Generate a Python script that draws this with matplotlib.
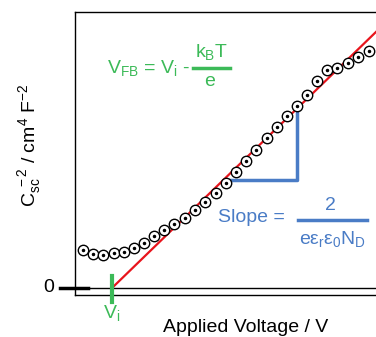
import matplotlib
matplotlib.use("Agg")
import matplotlib.pyplot as plt

plt.rcParams['font.family'] = ['Liberation Sans', 'DejaVu Sans']
plt.rcParams['mathtext.fontset'] = 'custom'
plt.rcParams['mathtext.rm'] = 'Liberation Sans'
plt.rcParams['mathtext.it'] = 'Liberation Sans'

# data (arbitrary units)
voltage = [-0.42, -0.32, -0.22, -0.11, -0.01, 0.09, 0.19, 0.29, 0.39, 0.49,
           0.60, 0.70, 0.80, 0.91, 1.01, 1.11, 1.21, 1.31, 1.42, 1.52,
           1.62, 1.72, 1.82, 1.92, 2.02, 2.12, 2.23, 2.33, 2.44]
csc_inv2 = [0.38, 0.34, 0.33, 0.35, 0.36, 0.40, 0.45, 0.52, 0.58, 0.64,
            0.70, 0.78, 0.86, 0.95, 1.05, 1.16, 1.27, 1.38, 1.50, 1.61,
            1.72, 1.82, 1.93, 2.07, 2.18, 2.20, 2.25, 2.31, 2.37]
v_i = -0.13
slope = 0.97
fit_x = [v_i, 2.51]
tri_x = 1.72
tri_y = 1.08

green = '#3cba58'
blue = '#4a7cc6'
red = '#e8141c'

fig = plt.figure(figsize=(3.76, 3.37), dpi=100)
ax = fig.add_axes([75/376, (337-295)/337, 301/376, 283/337])
ax.set_xlim(-0.5, 2.51)
ax.set_ylim(-0.07, 2.76)
ax.set_xticks([])
ax.set_yticks([])
ax.spines['right'].set_visible(False)
for s in ['left', 'top', 'bottom']:
    ax.spines[s].set_linewidth(1.0)

# zero line
ax.axhline(0, color='black', lw=1.0)
ax.plot([-0.65, -0.37], [0, 0], color='black', lw=2.5, clip_on=False)

# fit line
fit_y = [slope * (x - v_i) for x in fit_x]
ax.plot(fit_x, fit_y, color=red, lw=1.6, zorder=3)

# data points
ax.plot(voltage, csc_inv2, 'o', ms=7.5, mfc='white', mec='black', mew=1.0, zorder=4)
ax.plot(voltage, csc_inv2, '.', ms=3, color='black', zorder=5)

# slope triangle
x0 = v_i + tri_y / slope
ax.plot([x0, tri_x, tri_x], [tri_y, tri_y, slope * (tri_x - v_i)],
        color=blue, lw=2.5, zorder=2, solid_capstyle='butt')

# Vi tick
ax.plot([v_i, v_i], [0.12, -0.14], color=green, lw=3, clip_on=False, zorder=6)

def P(px, py):
    return (px - 75) / 100 - 0.5, (288 - py) / 100

# annotations
ax.text(*P(107, 68), r'V$_\mathregular{FB}$ = V$_\mathregular{i}$ -', color=green, fontsize=14,
        ha='left', va='center')
ax.text(*P(211, 52), r'k$_\mathregular{B}$T', color=green, fontsize=14, ha='center', va='center')
ax.plot([P(193, 0)[0], P(230, 0)[0]], [P(0, 68)[1]] * 2, color=green, lw=2.5)
ax.text(*P(210, 81), 'e', color=green, fontsize=14, ha='center', va='center')

ax.text(*P(218, 218), 'Slope =', color=blue, fontsize=14, ha='left', va='center')
ax.text(*P(330, 205), '2', color=blue, fontsize=14, ha='center', va='center')
ax.plot([P(298, 0)[0], P(367, 0)[0]], [P(0, 220)[1]] * 2, color=blue, lw=2.5)
ax.text(*P(333, 239), r'$\mathregular{e\epsilon_r\epsilon_0N_D}$', color=blue, fontsize=14,
        ha='center', va='center')

ax.text(*P(49, 288), '0', color='black', fontsize=14, ha='center', va='center')
ax.text(*P(112, 313), r'V$_\mathregular{i}$', color=green, fontsize=14, ha='center', va='center')

fig.text(246/376, 1 - 327/337, 'Applied Voltage / V', fontsize=14, ha='center', va='center')
fig.text(30/376, 1 - 145/337, r'$\mathregular{C_{sc}^{\ -2}\ /\ cm^4\ F^{-2}}$', fontsize=14,
         ha='center', va='center', rotation=90)

fig.savefig('out.png', dpi=100)
